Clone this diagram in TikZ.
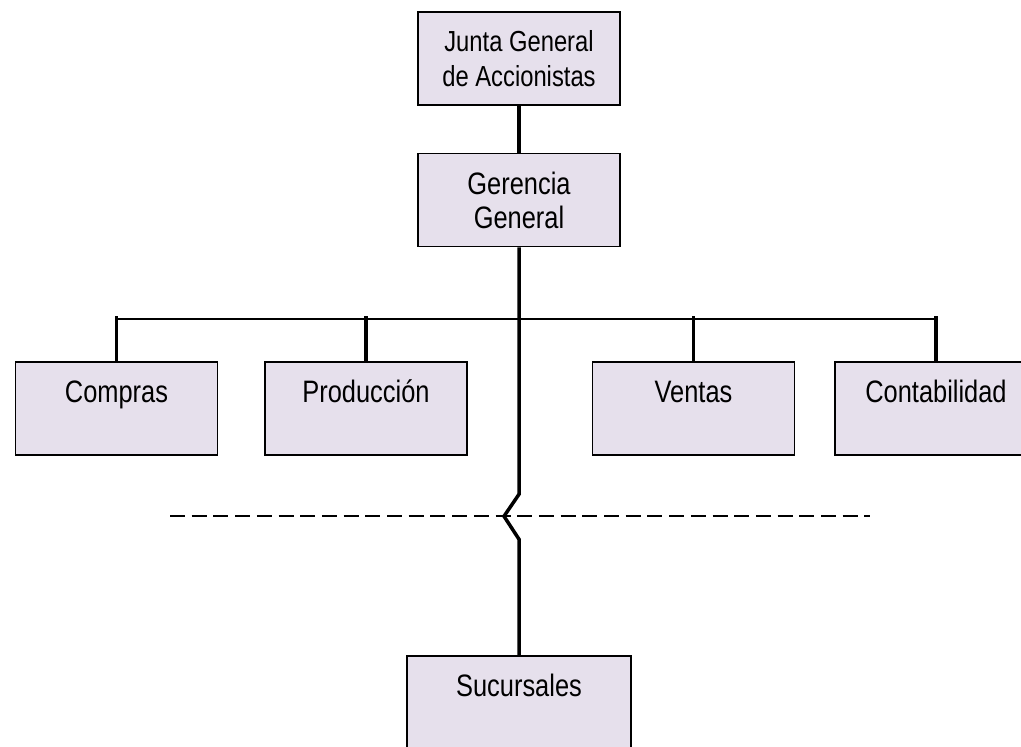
\documentclass[tikz,border=0pt]{standalone}
\usepackage{fontspec}
\setmainfont{Liberation Sans}[FakeStretch=0.82]
\usetikzlibrary{positioning}
\definecolor{lavanda}{HTML}{E6E0EC}

\begin{document}
\begin{tikzpicture}[x=1pt, y=-1pt, node distance=46pt,
    unidad/.style={rectangle, draw, line width=1.5pt, fill=lavanda, minimum width=202pt, minimum height=93pt, align=center, inner sep=2pt, font=\fontsize{31}{34}\selectfont},
    cabeza/.style={unidad, font=\fontsize{29}{35}\selectfont},
    enlace/.style={line width=3.5pt},
    barra/.style={line width=1.6pt}]
    \useasboundingbox (0,0) rectangle (1021,747);
    \node[cabeza] (junta) at (519,58.5) {Junta General\\de Accionistas};
    \node[unidad] (gerencia) [below=47pt of junta] {Gerencia\\General};
    \node[unidad] (compras) at (116.5,408.5) {Compras\\\mbox{}};
    \node[unidad] (produccion) [right=46pt of compras] {Producción\\\mbox{}};
    \node[unidad] (ventas) [right=124pt of produccion] {Ventas\\\mbox{}};
    \node[unidad] (contabilidad) [right=39pt of ventas] {Contabilidad\\\mbox{}};
    \node[unidad, minimum width=224pt] (sucursales) at (519,702.5) {Sucursales\\\mbox{}};
    \coordinate (nivel) at (0,319); % horizontal bar
    \coordinate (tope) at (0,316);
    \coordinate (guiones ini) at (170,515.5);
    \coordinate (guiones fin) at (870,515.5);
    \draw[enlace] (junta) -- (gerencia);
    \draw[barra] (compras.north |- nivel) -- (contabilidad.north |- nivel);
    \foreach \n in {compras, produccion, ventas, contabilidad}
        \draw[enlace] (\n.north) -- (\n.north |- tope);
    \draw[barra, line width=2pt, dash pattern=on 15pt off 6.7pt] (guiones ini) -- (guiones fin);
    \draw[enlace] (gerencia.south) -- ++(0,247) coordinate (quiebre) -- ++(-15,22) -- ++(15,23) -- (sucursales.north); % broken link
\end{tikzpicture}
\end{document}
